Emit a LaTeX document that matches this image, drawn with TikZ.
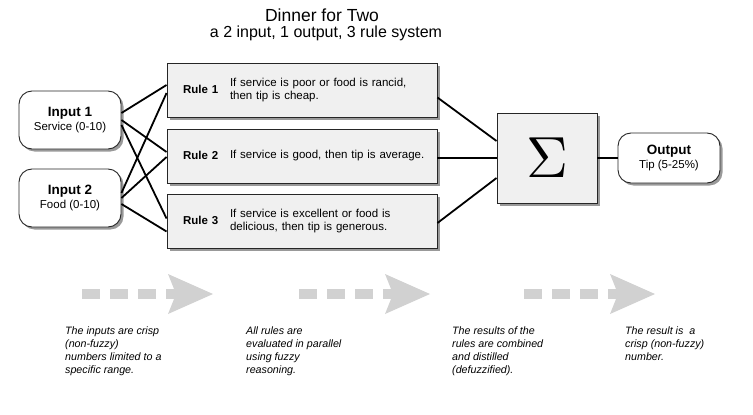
\documentclass[tikz,border=0pt]{standalone}
\usepackage{fontspec}
\setmainfont{Liberation Sans}
\usetikzlibrary{positioning,shapes,shadows,calc}

\newcommand{\ruletext}[2]{\hspace*{8pt}\makebox[47pt][l]{\textbf{#1}}\parbox[c]{199pt}{\raggedright #2}}
\newcommand{\boxhead}[1]{{\fontsize{13.5}{15}\selectfont\bfseries #1}}

\begin{document}
\begin{tikzpicture}[x=1pt, y=-1pt,
    shade box/.style={drop shadow={shadow xshift=2.5pt, shadow yshift=-2.5pt, fill=black!40, opacity=1}},
    inbox/.style={rectangle, draw=black!85, line width=0.9pt, rounded corners=13pt, fill=white, minimum width=102pt, minimum height=58pt, align=center, font=\fontsize{11.5}{14}\selectfont, shade box},
    rulebox/.style={rectangle, draw=black!85, line width=0.9pt, fill=black!6, minimum width=270pt, minimum height=54pt, text width=254pt, inner xsep=8pt, align=left, font=\fontsize{11.5}{13}\selectfont, shade box},
    sumbox/.style={rectangle, draw=black!85, line width=0.9pt, fill=black!6, minimum width=100pt, minimum height=90pt, shade box},
    wire/.style={line width=1.8pt, black},
    note/.style={anchor=north west, align=left, inner sep=0pt, font=\fontsize{10.7}{13}\selectfont\itshape},
    hint/.style={fill=black!18}
]
    \useasboundingbox (0,0) rectangle (753,415);

    % title
    \node[font=\fontsize{17.5}{20}\selectfont] (title) at (322,15) {Dinner for Two};
    \node[font=\fontsize{16}{18}\selectfont] (subtitle) at (326,33) {a 2 input, 1 output, 3 rule system};

    % inputs, rules, sum, output
    \node[inbox] (in1) at (70,120) {\boxhead{Input 1}\\Service (0-10)};
    \node[inbox] (in2) at (70,198) {\boxhead{Input 2}\\Food (0-10)};

    \node[rulebox] (r1) at (302,90) {\ruletext{Rule 1}{If service is poor or food is rancid,\\then tip is cheap.}};
    \node[rulebox] (r2) at (302,156) {\ruletext{Rule 2}{If service is good, then tip is average.}};
    \node[rulebox] (r3) at (302,221.5) {\ruletext{Rule 3}{If service is excellent or food is\\delicious, then tip is generous.}};

    \node[sumbox] (sum) at (547,158) {\raisebox{-4pt}{\scalebox{5.8}{$\Sigma$}}};
    \node[inbox, minimum height=50pt] (out) at (669,158) {\boxhead{Output}\\Tip (5-25\%)};

    % wires
    \foreach \a/\da/\b/\db in {in1/-7/r1/-5, in1/0/r2/-4, in1/5/r3/-3, in2/-5/r1/3, in2/0/r2/1, in2/6/r3/10}
        \draw[wire] ($(\a.east)+(0,\da)$) -- ($(\b.west)+(0,\db)$);
    \draw[wire] ($(r1.east)+(0,7.5)$) -- ($(sum.west)+(0,-17)$);
    \draw[wire] ($(r2.east)+(0,2)$) -- ($(sum.west)+(0,0)$);
    \draw[wire] ($(r3.east)+(0,1.5)$) -- ($(sum.west)+(0,20)$);
    \draw[wire] (sum) -- (out);

    % gray flow arrows
    \foreach \sx in {82,299,524} {
        \foreach \k in {0,1,2,3}
            \fill[hint] (\sx+28*\k,289) rectangle ++(18,10);
        \fill[hint] (\sx+86,274) -- (\sx+131,294) -- (\sx+86,314) -- (\sx+94,294) -- cycle;
    }

    % notes
    \node[note] (n1) at (65,327) {The inputs are crisp\\(non-fuzzy)\\numbers limited to a\\specific range.};
    \node[note] (n2) at (246,327) {All rules are\\evaluated in parallel\\using fuzzy\\reasoning.};
    \node[note] (n3) at (452,327) {The results of the\\rules are combined\\and distilled\\(defuzzified).};
    \node[note] (n4) at (625,327) {The result is\ \ a\\crisp (non-fuzzy)\\number.};
\end{tikzpicture}
\end{document}
